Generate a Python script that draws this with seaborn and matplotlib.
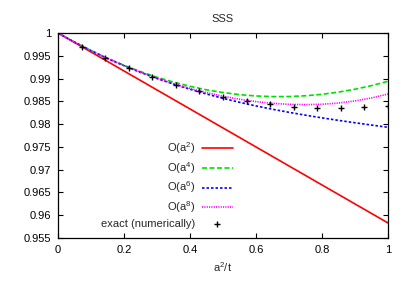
import numpy as np
import pandas as pd
import matplotlib
matplotlib.use("Agg")
import matplotlib.pyplot as plt
import seaborn as sns

# ---- data ----
x_curve = [0.0, 0.05, 0.1, 0.15, 0.2, 0.25, 0.3, 0.35, 0.4, 0.45, 0.5,
           0.55, 0.6, 0.65, 0.7, 0.75, 0.8, 0.85, 0.9, 0.95, 1.0]
o2 = [1.0, 0.99792, 0.99583, 0.99375, 0.99166, 0.98958, 0.98749, 0.98541, 0.98332, 0.98124, 0.97915,
      0.97707, 0.97498, 0.97290, 0.97081, 0.96873, 0.96664, 0.96456, 0.96247, 0.96039, 0.95830]
o4 = [1.0, 0.99799, 0.99614, 0.99445, 0.99290, 0.99152, 0.99029, 0.98922, 0.98830, 0.98753, 0.98693,
      0.98647, 0.98618, 0.98604, 0.98605, 0.98622, 0.98654, 0.98703, 0.98766, 0.98845, 0.98940]
o6 = [1.0, 0.99799, 0.99613, 0.99441, 0.99282, 0.99136, 0.99002, 0.98878, 0.98765, 0.98661, 0.98566,
      0.98479, 0.98399, 0.98326, 0.98259, 0.98196, 0.98137, 0.98082, 0.98030, 0.97979, 0.97930]
o8 = [1.0, 0.99799, 0.99613, 0.99441, 0.99284, 0.99139, 0.99008, 0.98889, 0.98784, 0.98691, 0.98612,
      0.98546, 0.98494, 0.98456, 0.98434, 0.98427, 0.98436, 0.98463, 0.98509, 0.98574, 0.98660]
x_exact = [1/14, 2/14, 3/14, 4/14, 5/14, 6/14, 7/14, 8/14, 9/14, 10/14, 11/14, 12/14, 13/14, 1.0]
y_exact = [0.9970, 0.9946, 0.99237, 0.9904, 0.98864, 0.98725, 0.9860, 0.98512, 0.98431,
           0.9838, 0.98352, 0.98343, 0.98365, 0.98402]
labels = ["O(a$^{2}$)", "O(a$^{4}$)", "O(a$^{6}$)", "O(a$^{8}$)", "exact (numerically)"]
x_ticks = [0, 0.2, 0.4, 0.6, 0.8, 1]
x_ticklabels = ["0", "0.2", "0.4", "0.6", "0.8", "1"]
y_ticks = [0.955, 0.96, 0.965, 0.97, 0.975, 0.98, 0.985, 0.99, 0.995, 1.0]
y_ticklabels = ["0.955", "0.96", "0.965", "0.97", "0.975", "0.98", "0.985", "0.99", "0.995", "1"]

sns.set_style("ticks")
plt.rcParams["font.family"] = ["Liberation Sans", "DejaVu Sans"]
plt.rcParams["mathtext.default"] = "regular"
plt.rcParams["font.size"] = 8

fig = plt.figure(figsize=(4.09, 2.86), dpi=100)
ax = fig.add_axes([58/409, 48/286, 330/409, 205/286])

styles = [
    dict(color="#ff0000", linestyle="-", linewidth=1.2),
    dict(color="#00e000", linestyle=(0, (3, 1.5)), linewidth=1.2),
    dict(color="#0000ff", linestyle=(0, (1.5, 1.2)), linewidth=1.2),
    dict(color="#ff00ff", linestyle=(0, (0.7, 0.7)), linewidth=1.2),
]
for ys, lab, st in zip([o2, o4, o6, o8], labels[:4], styles):
    sns.lineplot(x=x_curve, y=ys, ax=ax, label=lab, **st)
sns.scatterplot(x=x_exact, y=y_exact, ax=ax, marker="+", color="black", s=18,
                linewidth=1.0, label=labels[4], zorder=5)

ax.set_xlim(0, 1)
ax.set_ylim(0.955, 1.0)
ax.set_xticks(x_ticks)
ax.set_xticklabels(x_ticklabels)
ax.set_yticks(y_ticks)
ax.set_yticklabels(y_ticklabels)
ax.tick_params(direction="in", length=3.5, width=0.8, top=True, right=True,
               labelsize=8, pad=5, colors="black")
for sp in ax.spines.values():
    sp.set_visible(True)
    sp.set_linewidth(0.9)
    sp.set_color("black")
ax.set_title("SSS", fontsize=8, pad=8)
ax.set_xlabel("a$^{2}$/t", fontsize=8, labelpad=4)
ax.set_ylabel("")

leg = ax.legend(loc="center", bbox_to_anchor=(0.33, 0.26), frameon=False,
                markerfirst=False, fontsize=8, handlelength=2.8, labelspacing=0.35,
                handletextpad=0.6)

fig.savefig("out.png", dpi=100)
